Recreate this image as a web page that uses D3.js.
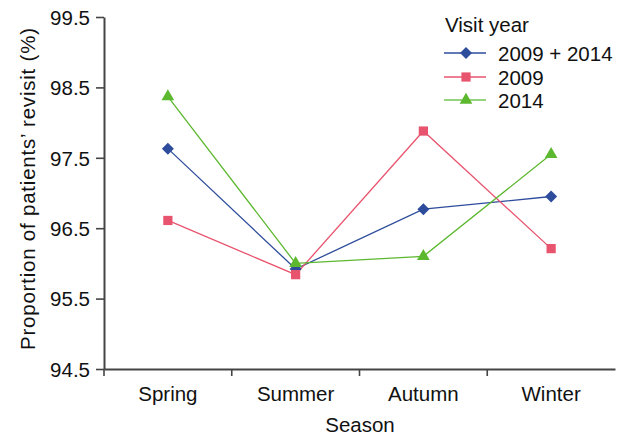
<!DOCTYPE html>
<html><head><meta charset="utf-8">
<script src="https://cdn.jsdelivr.net/npm/d3@7"></script>
<style>body{margin:0;background:#fff}svg{display:block;font-family:"Liberation Sans",Arial,sans-serif}</style>
</head><body><svg id="c" width="629" height="436"></svg>
<script>
const seasons = ["Spring","Summer","Autumn","Winter"];
const yTicks = [94.5,95.5,96.5,97.5,98.5,99.5];
const seriesNames = ["2009 + 2014","2009","2014"];
const valsBoth = [97.63,95.92,96.77,96.95];
const vals2009 = [96.61,95.84,97.88,96.21];
const vals2014 = [98.37,96.0,96.1,97.55];
const colors = ["#2d4c9c","#e8546e","#5cb82f"];
const legendLineColors = ["#2d4c9c","#e8546e","#72c452"];
const series = [valsBoth, vals2009, vals2014];

const diamond = {draw(ctx,size){const r=Math.sqrt(size/2);ctx.moveTo(0,-r);ctx.lineTo(r,0);ctx.lineTo(0,r);ctx.lineTo(-r,0);ctx.closePath();}};
const shapes = [diamond, d3.symbolSquare, d3.symbolTriangle];
const sizes = [72, 85, 70];

const svg = d3.select("#c");
const L=104, R=615, T=17, B=369;
const FS = 20.5;
const x = d3.scaleBand().domain(seasons).range([L,R]);
const y = d3.scaleLinear().domain([94.5,99.5]).range([B,T]);
const cx = d => x(d)+x.bandwidth()/2;

const yAxis = svg.append("g").attr("transform",`translate(${L},0)`)
  .call(d3.axisLeft(y).tickValues(yTicks).tickFormat(d3.format(".1f")).tickSize(8).tickSizeOuter(0));
yAxis.selectAll("text").attr("font-size",FS).attr("fill","#111").attr("x",-14).attr("dy","0.36em");
const xAxis = svg.append("g").attr("transform",`translate(0,${B})`)
  .call(d3.axisBottom(x).tickSize(0).tickSizeOuter(0));
xAxis.selectAll("text").attr("font-size",FS).attr("fill","#111").attr("dy",0).attr("y",32);
xAxis.selectAll(".bt").data(seasons).enter().append("line")
  .attr("x1",d=>x(d)).attr("x2",d=>x(d)).attr("y1",0).attr("y2",7);
svg.selectAll(".domain").attr("stroke","#444").attr("stroke-width",2);
svg.selectAll("line").attr("stroke","#444").attr("stroke-width",1.6);

const line = d3.line().x((d,i)=>cx(seasons[i])).y(d=>y(d));
series.forEach((s,k)=>{
  svg.append("path").datum(s).attr("d",line).attr("fill","none").attr("stroke",colors[k]).attr("stroke-width",1.3);
});
series.forEach((s,k)=>{
  svg.selectAll(null).data(s).enter().append("path")
    .attr("d",d3.symbol().type(shapes[k]).size(sizes[k]))
    .attr("transform",(d,i)=>`translate(${cx(seasons[i])},${y(d)})`)
    .attr("fill",colors[k]);
});

svg.append("text").attr("x",360).attr("y",432).attr("text-anchor","middle").attr("font-size",FS).attr("fill","#111").text("Season");
svg.append("text").attr("transform","translate(35,189) rotate(-90)").attr("text-anchor","middle").attr("font-size",FS)
  .attr("textLength",322).attr("lengthAdjust","spacing").attr("fill","#111").text("Proportion of patients’ revisit (%)");

const lg = svg.append("g");
lg.append("text").attr("x",445).attr("y",32).attr("font-size",FS).attr("fill","#111").text("Visit year");
const rowsY = [53, 77, 100];
seriesNames.forEach((n,k)=>{
  const yy = rowsY[k];
  lg.append("line").attr("x1",444).attr("x2",486).attr("y1",yy).attr("y2",yy).attr("stroke",legendLineColors[k]).attr("stroke-width",1.5);
  lg.append("path").attr("d",d3.symbol().type(shapes[k]).size(sizes[k])).attr("transform",`translate(466,${yy})`).attr("fill",colors[k]);
  lg.append("text").attr("x",498).attr("y",yy+7.5).attr("font-size",FS).attr("fill","#111").text(n);
});
</script></body></html>
